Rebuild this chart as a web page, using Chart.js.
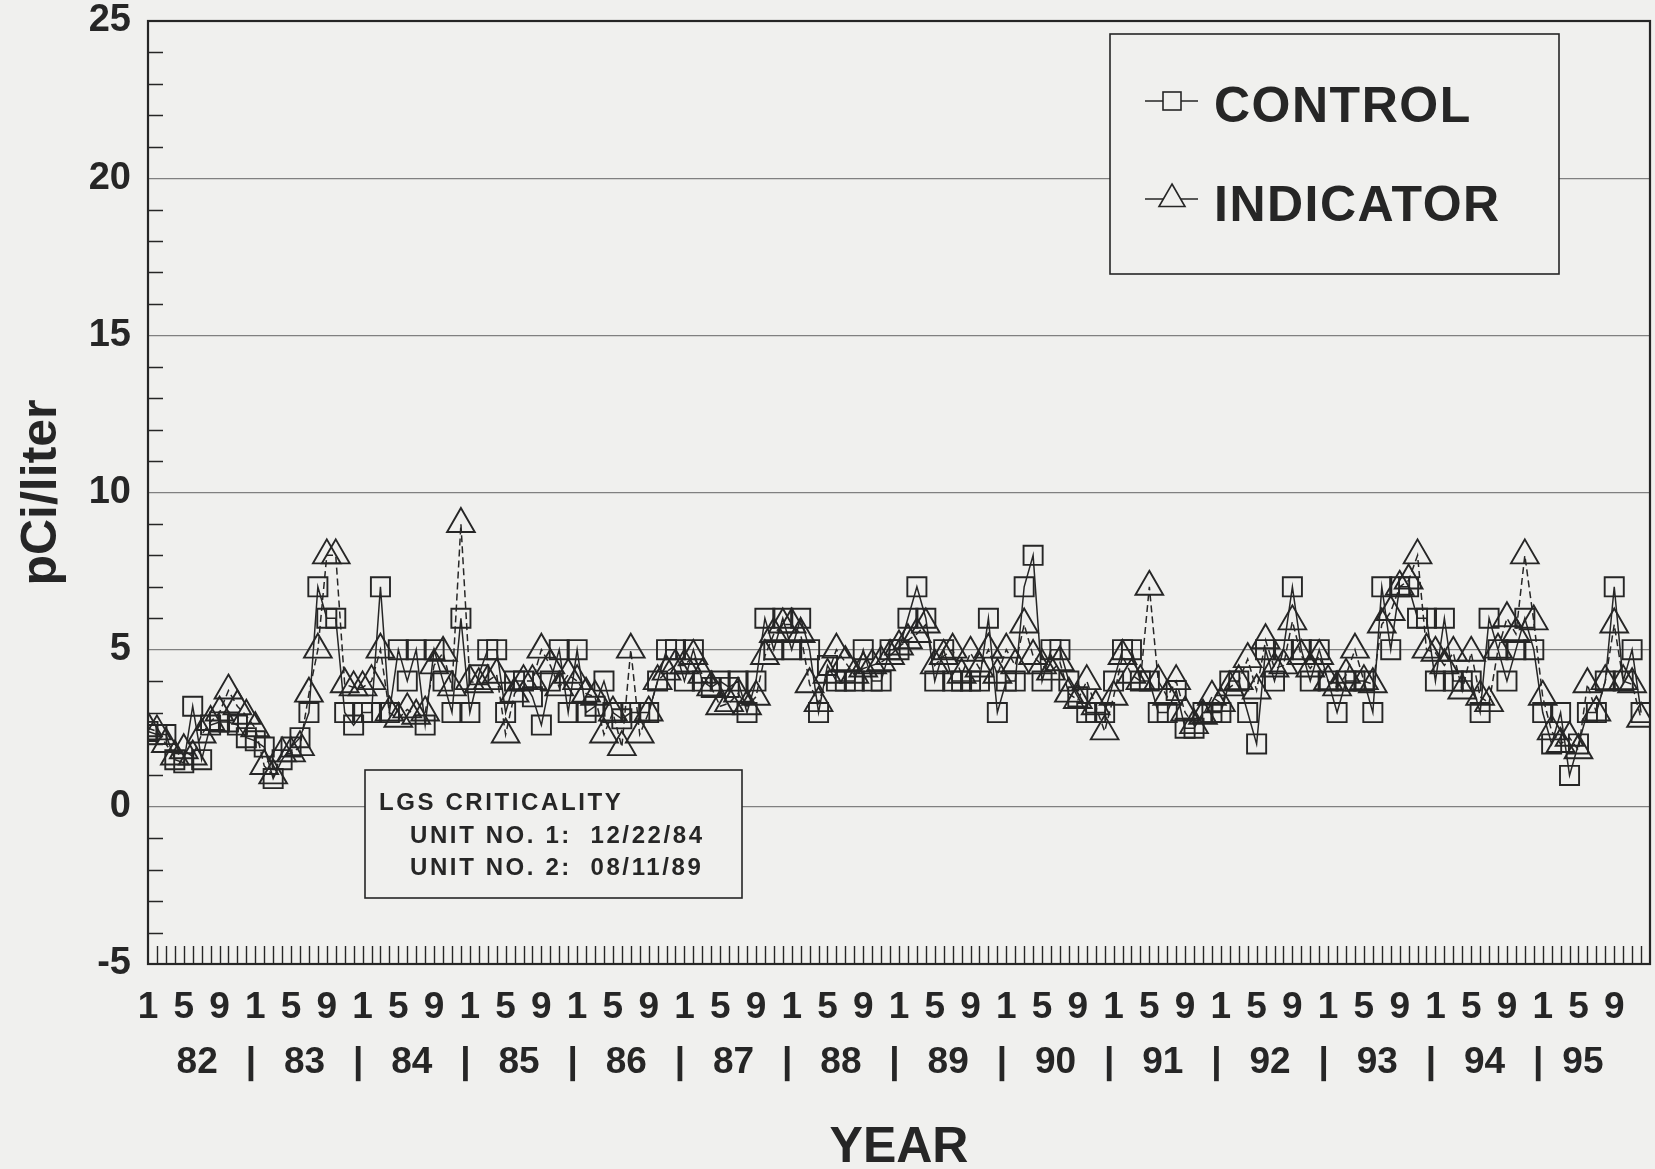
<!DOCTYPE html>
<html>
<head>
<meta charset="utf-8">
<script src="https://cdn.jsdelivr.net/npm/chart.js@4.4.1/dist/chart.umd.min.js"></script>
<style>
  html, body { margin: 0; padding: 0; background: #f0f0ee; }
  #wrap { width: 1655px; height: 1169px; position: relative; }
</style>
</head>
<body>
<div id="wrap"><canvas id="chart" width="1655" height="1169"></canvas></div>
<script>
// month tick labels shown under the axis (Jan, May, Sep of each year)
const monthLabels = ['1', '5', '9']
const monthOffsets = [0, 4, 8]
const years = ['82', '83', '84', '85', '86', '87', '88', '89', '90', '91', '92', '93', '94', '95']

// monthly values, Jan 1982 .. Dec 1995 (pCi/liter)
const control = [
  2.4, 2.3, 2.3, 1.5, 1.4, 3.2, 1.5, 2.6, 2.7, 2.7, 2.6, 2.2,
  2.1, 1.9, 0.9, 1.5, 1.9, 2.2, 3.0, 7.0, 6.0, 6.0, 3.0, 2.6,
  3.0, 3.0, 7.0, 3.0, 5.0, 4.0, 5.0, 2.6, 5.0, 4.0, 3.0, 6.0,
  3.0, 4.2, 5.0, 5.0, 3.0, 4.0, 4.0, 3.5, 2.6, 4.0, 5.0, 3.0,
  5.0, 3.0, 3.2, 4.0, 3.0, 2.8, 3.0, 3.0, 3.0, 4.0, 5.0, 5.0,
  4.0, 5.0, 4.0, 3.8, 4.0, 3.8, 4.0, 3.0, 4.0, 6.0, 5.0, 6.0,
  5.0, 6.0, 5.0, 3.0, 4.5, 4.0, 4.0, 4.0, 5.0, 4.0, 4.0, 5.0,
  5.0, 6.0, 7.0, 6.0, 4.0, 5.0, 4.0, 4.0, 4.0, 4.0, 6.0, 3.0,
  4.0, 4.0, 7.0, 8.0, 4.0, 5.0, 5.0, 4.0, 3.5, 3.0, 3.0, 3.0,
  4.0, 5.0, 5.0, 4.0, 4.0, 3.0, 3.0, 3.7, 2.5, 2.5, 3.0, 3.0,
  3.0, 4.0, 4.0, 3.0, 2.0, 5.0, 4.0, 5.0, 7.0, 5.0, 4.0, 5.0,
  4.0, 3.0, 4.0, 4.0, 4.0, 3.0, 7.0, 5.0, 7.0, 7.0, 6.0, 6.0,
  4.0, 6.0, 4.0, 4.0, 4.0, 3.0, 6.0, 5.0, 4.0, 5.0, 6.0, 5.0,
  3.0, 2.0, 3.0, 1.0, 2.0, 3.0, 3.0, 4.0, 7.0, 4.0, 5.0, 3.0
]
const indicator = [
  2.5, 2.4, 2.0, 1.6, 1.8, 1.6, 2.3, 2.7, 3.0, 3.7, 3.2, 2.9,
  2.5, 1.3, 1.0, 1.7, 1.7, 1.9, 3.6, 5.0, 8.0, 8.0, 3.9, 3.8,
  3.8, 4.0, 5.0, 3.0, 2.8, 3.1, 2.9, 3.0, 4.5, 4.9, 3.8, 9.0,
  4.0, 3.9, 4.0, 4.2, 2.3, 3.6, 4.0, 4.0, 5.0, 4.5, 3.8, 4.2,
  4.0, 3.6, 3.5, 2.3, 3.0, 1.9, 5.0, 2.3, 3.0, 4.0, 4.3, 4.5,
  4.5, 4.8, 4.2, 3.8, 3.2, 3.3, 3.6, 3.2, 3.5, 4.8, 5.5, 5.8,
  5.8, 5.5, 3.9, 3.3, 4.2, 5.0, 4.6, 4.2, 4.4, 4.5, 4.6, 4.8,
  5.1, 5.3, 5.5, 5.8, 4.5, 4.8, 5.0, 4.2, 4.9, 4.4, 5.0, 4.2,
  5.0, 4.5, 5.8, 4.8, 4.5, 4.3, 4.6, 3.6, 3.4, 4.0, 3.2, 2.4,
  3.5, 4.8, 4.2, 4.0, 7.0, 4.0, 3.5, 4.0, 3.0, 2.6, 2.9, 3.5,
  3.3, 3.8, 4.0, 4.7, 3.7, 5.3, 4.4, 4.5, 5.9, 4.8, 4.4, 4.8,
  4.0, 3.8, 4.2, 5.0, 4.0, 3.9, 5.8, 6.2, 7.0, 7.2, 8.0, 5.0,
  4.9, 4.5, 4.9, 3.7, 4.9, 3.5, 3.3, 5.0, 6.0, 5.5, 8.0, 5.9,
  3.5, 2.4, 2.0, 2.2, 1.8, 3.9, 3.0, 4.0, 5.8, 4.0, 3.9, 2.8
]

const ink = '#262626'
const paper = '#f0f0ee'
const fontFamily = "'Liberation Sans', Arial, Helvetica, sans-serif"
const nMonths = years.length * 12

// tick lists for the two bottom axes
const monthTicks = []
years.forEach((yr, i) => monthOffsets.forEach(off => monthTicks.push({ value: i * 12 + off })))
const yearTicks = []
const yearTickText = []
years.forEach((yr, i) => {
  // the last year is centred under its labelled months only
  const mid = i === years.length - 1 ? 4.5 : 5.5
  yearTicks.push({ value: i * 12 + mid }); yearTickText.push(yr)
  if (i < years.length - 1) { yearTicks.push({ value: i * 12 + 11.5 }); yearTickText.push('|') }
})

// keep the plot box where the original has it: no extra room for edge labels
const noEdgePadding = s => { s.paddingLeft = 0; s.paddingRight = 0; s.paddingTop = 0; s.paddingBottom = 0 }

// frame plus the small inward ticks (monthly on x, unit steps on y)
const framePlugin = {
  id: 'frame',
  beforeDatasetsDraw(chart) {
    const { ctx, chartArea: a, scales: { x, y } } = chart
    ctx.save()
    ctx.strokeStyle = ink
    ctx.lineWidth = 1.4
    ctx.beginPath()
    for (let m = 1; m < nMonths; m++) {
      const px = Math.round(x.getPixelForValue(m)) + 0.5
      ctx.moveTo(px, a.bottom)
      ctx.lineTo(px, a.bottom - 18)
    }
    for (let v = -4; v < 25; v++) {
      if (v % 5 === 0) continue
      const py = Math.round(y.getPixelForValue(v)) + 0.5
      ctx.moveTo(a.left, py)
      ctx.lineTo(a.left + 15, py)
    }
    ctx.stroke()
    ctx.lineWidth = 2.2
    ctx.strokeRect(a.left, a.top, a.right - a.left, a.bottom - a.top)
    ctx.restore()
  }
}

function drawSquare(ctx, cx, cy, side) {
  ctx.strokeRect(cx - side / 2, cy - side / 2, side, side)
}
function drawTriangle(ctx, cx, cy, r) {
  ctx.beginPath()
  ctx.moveTo(cx, cy - r)
  ctx.lineTo(cx + r * 0.866, cy + r / 2)
  ctx.lineTo(cx - r * 0.866, cy + r / 2)
  ctx.closePath()
  ctx.stroke()
}

// legend box and the criticality note
const boxesPlugin = {
  id: 'boxes',
  afterDraw(chart) {
    const ctx = chart.ctx
    ctx.save()
    ctx.strokeStyle = ink
    ctx.fillStyle = paper
    ctx.lineWidth = 1.6

    // legend
    ctx.fillRect(1110, 34, 449, 240)
    ctx.strokeRect(1110, 34, 449, 240)
    ctx.beginPath()
    ctx.moveTo(1145, 101); ctx.lineTo(1198, 101)
    ctx.moveTo(1145, 199); ctx.lineTo(1198, 199)
    ctx.stroke()
    ctx.fillRect(1163, 92, 18, 18)
    drawSquare(ctx, 1172, 101, 18)
    ctx.beginPath()
    ctx.moveTo(1172, 185); ctx.lineTo(1185, 207); ctx.lineTo(1159, 207); ctx.closePath()
    ctx.fill()
    drawTriangle(ctx, 1172, 199, 15)

    ctx.fillStyle = ink
    ctx.textBaseline = 'middle'
    ctx.textAlign = 'left'
    ctx.font = 'bold 50px ' + fontFamily
    if ('letterSpacing' in ctx) ctx.letterSpacing = '1.5px'
    ctx.fillText('CONTROL', 1214, 108)
    ctx.fillText('INDICATOR', 1214, 207)

    // criticality note
    ctx.fillStyle = paper
    ctx.fillRect(365, 770, 377, 128)
    ctx.strokeRect(365, 770, 377, 128)
    ctx.fillStyle = ink
    ctx.font = 'bold 24px ' + fontFamily
    if ('letterSpacing' in ctx) ctx.letterSpacing = '2.6px'
    ctx.fillText('LGS CRITICALITY', 379, 803)
    ctx.fillText('UNIT NO. 1:  12/22/84', 410, 836)
    ctx.fillText('UNIT NO. 2:  08/11/89', 410, 868)
    ctx.restore()
  }
}

const pointsOf = arr => arr.map((v, i) => ({ x: i, y: v }))

new Chart(document.getElementById('chart'), {
  type: 'line',
  data: {
    datasets: [
      {
        label: 'CONTROL',
        data: pointsOf(control),
        borderColor: ink,
        borderWidth: 1.5,
        pointStyle: 'rect',
        pointRadius: 13.5,
        pointBorderWidth: 1.9,
        pointBorderColor: ink,
        pointBackgroundColor: 'rgba(0,0,0,0)',
        tension: 0,
        fill: false
      },
      {
        label: 'INDICATOR',
        data: pointsOf(indicator),
        borderColor: ink,
        borderWidth: 1.5,
        borderDash: [7, 4],
        pointStyle: 'triangle',
        pointRadius: 16,
        pointBorderWidth: 1.9,
        pointBorderColor: ink,
        pointBackgroundColor: 'rgba(0,0,0,0)',
        tension: 0,
        fill: false
      }
    ]
  },
  options: {
    responsive: false,
    animation: false,
    layout: { autoPadding: false, padding: { top: 21, right: 5, left: 0, bottom: 0 } },
    plugins: {
      legend: { display: false },
      tooltip: { enabled: false }
    },
    scales: {
      x: {
        type: 'linear',
        position: 'bottom',
        weight: 0,
        min: 0,
        max: nMonths,
        afterBuildTicks: s => { s.ticks = monthTicks.map(t => ({ ...t })) },
        afterFit: s => { s.height = 62; noEdgePadding(s) },
        grid: { display: false, drawTicks: false },
        border: { display: false },
        ticks: {
          autoSkip: false,
          maxRotation: 0,
          minRotation: 0,
          padding: 22,
          color: ink,
          font: { family: fontFamily, size: 37, weight: 'bold' },
          callback: (v, i) => monthLabels[i % 3]
        }
      },
      x2: {
        type: 'linear',
        position: 'bottom',
        weight: 1,
        min: 0,
        max: nMonths,
        afterBuildTicks: s => { s.ticks = yearTicks.map(t => ({ ...t })) },
        afterFit: s => { s.height = 143; noEdgePadding(s) },
        grid: { display: false, drawTicks: false },
        border: { display: false },
        ticks: {
          autoSkip: false,
          maxRotation: 0,
          minRotation: 0,
          padding: 15,
          color: ink,
          font: { family: fontFamily, size: 37, weight: 'bold' },
          callback: (v, i) => yearTickText[i]
        },
        title: {
          display: true,
          text: 'YEAR',
          color: ink,
          font: { family: fontFamily, size: 50, weight: 'bold', lineHeight: 1.0 },
          padding: { top: 0, bottom: -4 }
        }
      },
      y: {
        type: 'linear',
        min: -5,
        max: 25,
        afterBuildTicks: s => {
          const t = []
          for (let v = -5; v <= 25; v++) t.push({ value: v })
          s.ticks = t
        },
        afterFit: s => { s.width = 148; noEdgePadding(s) },
        grid: {
          drawTicks: false,
          lineWidth: 1.3,
          color: c => (c.tick && c.tick.value % 5 === 0 && c.tick.value > -5 && c.tick.value < 25) ? '#808080' : 'rgba(0,0,0,0)'
        },
        border: { display: false },
        ticks: {
          autoSkip: false,
          padding: 17,
          color: ink,
          font: { family: fontFamily, size: 38, weight: 'bold' },
          callback: v => (v % 5 === 0 ? String(v) : '')
        },
        title: {
          display: true,
          text: 'pCi/liter',
          color: ink,
          font: { family: fontFamily, size: 50, weight: 'bold' },
          padding: { top: 12, bottom: 0 }
        }
      }
    }
  },
  plugins: [framePlugin, boxesPlugin]
})
</script>
</body>
</html>
